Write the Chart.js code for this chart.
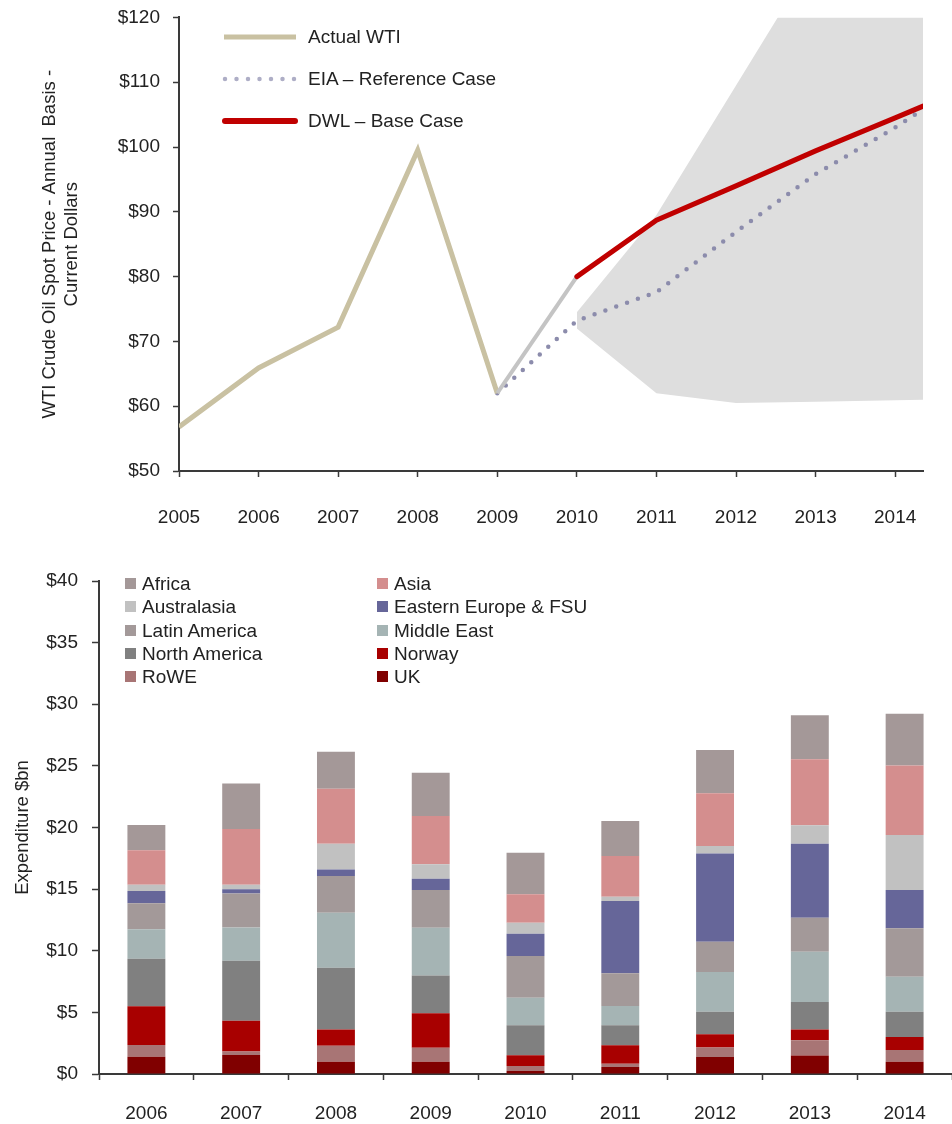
<!DOCTYPE html>
<html>
<head>
<meta charset="utf-8">
<script src="https://cdn.jsdelivr.net/npm/chart.js@4.4.1/dist/chart.umd.min.js"></script>
<style>
  body { margin: 0; background: #fff; font-family: "Liberation Sans", Arial, sans-serif; color: #222; }
  #page { position: relative; width: 952px; height: 1124px; overflow: hidden; }
  .box { position: absolute; left: 0; }
  .item { position: absolute; font-size: 19px; line-height: 22px; white-space: nowrap; }
  .item svg, .item span.sw { position: absolute; top: 50%; }
  .sw { width: 11px; height: 11px; margin-top: -6px; left: 0; }
</style>
</head>
<body>
<div id="page">
  <div class="box" style="top:-7px"><canvas id="price-chart" width="952" height="547"></canvas></div>
  <div class="box" style="top:540px"><canvas id="spend-chart" width="952" height="584"></canvas></div>
  <div id="price-legend"></div>
  <div id="spend-legend"></div>
</div>
<script>
// top chart: WTI price
const actualYears = [2005, 2006, 2007, 2008, 2009, 2010];
const actualWti = [56.8, 65.9, 72.2, 99.5, 62.0, 80.0];
const eiaYears = [2009, 2010, 2011, 2012, 2013, 2014, 2014.35];
const eiaReference = [62.0, 73.2, 77.6, 86.9, 95.8, 103.0, 105.8];
const dwlYears = [2010, 2011, 2012, 2013, 2014, 2014.35];
const dwlBase = [80.0, 88.7, 94.0, 99.4, 104.5, 106.3];
const rangeYears = [2010, 2011, 2012, 2013, 2014, 2014.35];
const rangeHigh = [74.5, 89.5, 109.5, 129.5, 149.5, 156.5];
const rangeLow = [72.0, 62.0, 60.5, 60.7, 60.9, 61.0];
const priceTicks = [50, 60, 70, 80, 90, 100, 110, 120];
const yearTicks = [2005, 2006, 2007, 2008, 2009, 2010, 2011, 2012, 2013, 2014];

// bottom chart: expenditure by region ($bn), stacked bottom to top
const spendYears = ['2006', '2007', '2008', '2009', '2010', '2011', '2012', '2013', '2014'];
const ukSpend = [1.4, 1.55, 1.0, 1.0, 0.24, 0.57, 1.38, 1.51, 1.0];
const roweSpend = [0.95, 0.27, 1.3, 1.13, 0.41, 0.27, 0.76, 1.22, 0.95];
const norwaySpend = [3.15, 2.5, 1.32, 2.79, 0.87, 1.49, 1.08, 0.89, 1.05];
const northAmericaSpend = [3.85, 4.87, 5.0, 3.08, 2.43, 1.62, 1.84, 2.22, 2.06];
const middleEastSpend = [2.4, 2.7, 4.46, 3.87, 2.24, 1.57, 3.22, 4.08, 2.84];
const latinAmericaSpend = [2.1, 2.76, 2.98, 3.06, 3.38, 2.65, 2.45, 2.76, 3.92];
const easternEuropeSpend = [1.0, 0.35, 0.53, 0.92, 1.81, 5.87, 7.17, 6.01, 3.11];
const australasiaSpend = [0.5, 0.35, 2.1, 1.16, 0.9, 0.35, 0.6, 1.49, 4.46];
const asiaSpend = [2.8, 4.52, 4.46, 3.92, 2.3, 3.3, 4.27, 5.35, 5.65];
const africaSpend = [2.05, 3.7, 3.0, 3.52, 3.38, 2.84, 3.52, 3.57, 4.19];
const spendTicks = [0, 5, 10, 15, 20, 25, 30, 35, 40];

Chart.defaults.font.family = '"Liberation Sans", Arial, sans-serif';
Chart.defaults.font.size = 19;
Chart.defaults.color = '#222';

const AXIS = '#3a3a3a';
const points = (xs, ys) => xs.map((x, i) => ({ x: x, y: ys[i] }));

new Chart(document.getElementById('price-chart'), {
    type: 'line',
    data: {
        datasets: [
            {
                label: 'DWL – Base Case', data: points(dwlYears, dwlBase),
                borderColor: '#c00000', borderWidth: 5, borderCapStyle: 'round', order: 0
            },
            {
                label: 'Actual WTI', data: points(actualYears, actualWti),
                borderColor: '#c9c1a2', borderWidth: 5, order: 1,
                segment: {
                    borderColor: ctx => ctx.p0.parsed.x >= 2009 ? '#c4c4c4' : undefined,
                    borderWidth: ctx => ctx.p0.parsed.x >= 2009 ? 4 : undefined
                }
            },
            {
                label: 'EIA – Reference Case', data: points(eiaYears, eiaReference),
                borderColor: '#8c8cac', borderWidth: 4.5, borderDash: [0, 11.5], borderCapStyle: 'round', order: 2
            },
            {
                label: 'range high', data: points(rangeYears, rangeHigh),
                borderWidth: 0, backgroundColor: '#dedede', fill: '+1', order: 5
            },
            {
                label: 'range low', data: points(rangeYears, rangeLow),
                borderWidth: 0, fill: false, order: 5
            }
        ]
    },
    options: {
        responsive: false,
        devicePixelRatio: 1,
        animation: false,
        elements: { point: { radius: 0 }, line: { tension: 0 } },
        layout: { padding: { top: 10, right: 29, left: 0, bottom: 0 } },
        plugins: { legend: { display: false }, tooltip: { enabled: false } },
        scales: {
            x: {
                type: 'linear', min: 2005, max: 2014.35,
                afterBuildTicks: s => { s.ticks = yearTicks.map(v => ({ value: v })); },
                afterFit: s => { s.height = 69; },
                ticks: { callback: v => String(v), padding: 29, maxRotation: 0 },
                grid: { drawOnChartArea: false, tickLength: 6, color: AXIS, tickWidth: 1.5 },
                border: { color: AXIS, width: 2 }
            },
            y: {
                min: 50, max: 120,
                afterBuildTicks: s => { s.ticks = priceTicks.map(v => ({ value: v })); },
                afterFit: s => { s.width = 179; },
                ticks: { callback: v => '$' + v, padding: 13 },
                grid: { drawOnChartArea: false, tickLength: 6, color: AXIS, tickWidth: 1.5 },
                border: { color: AXIS, width: 2 },
                title: {
                    display: true,
                    text: ['WTI Crude Oil Spot Price - Annual  Basis -', 'Current Dollars'],
                    font: { size: 18.5, lineHeight: '22px' },
                    padding: { top: 39, bottom: 0 }
                }
            }
        }
    }
});

const regions = [
    { name: 'UK', data: ukSpend, color: '#800000' },
    { name: 'RoWE', data: roweSpend, color: '#a87575' },
    { name: 'Norway', data: norwaySpend, color: '#a80000' },
    { name: 'North America', data: northAmericaSpend, color: '#808080' },
    { name: 'Middle East', data: middleEastSpend, color: '#a5b4b4' },
    { name: 'Latin America', data: latinAmericaSpend, color: '#a39999' },
    { name: 'Eastern Europe & FSU', data: easternEuropeSpend, color: '#666699' },
    { name: 'Australasia', data: australasiaSpend, color: '#c1c1c1' },
    { name: 'Asia', data: asiaSpend, color: '#d48e8e' },
    { name: 'Africa', data: africaSpend, color: '#a49898' }
];

new Chart(document.getElementById('spend-chart'), {
    type: 'bar',
    data: {
        labels: spendYears,
        datasets: regions.map(r => ({
            label: r.name, data: r.data, backgroundColor: r.color,
            borderWidth: 0, categoryPercentage: 1, barPercentage: 0.4
        }))
    },
    options: {
        responsive: false,
        devicePixelRatio: 1,
        animation: false,
        layout: { padding: { top: 41, right: 0, left: 0, bottom: 0 } },
        plugins: { legend: { display: false }, tooltip: { enabled: false } },
        scales: {
            x: {
                stacked: true,
                afterFit: s => { s.height = 50; },
                ticks: { padding: 22, maxRotation: 0 },
                grid: { drawOnChartArea: false, offset: true, tickLength: 6, color: AXIS, tickWidth: 1.5 },
                border: { color: AXIS, width: 2 }
            },
            y: {
                stacked: true, min: 0, max: 40,
                afterBuildTicks: s => { s.ticks = spendTicks.map(v => ({ value: v })); },
                afterFit: s => { s.width = 99; },
                ticks: { callback: v => '$' + v, padding: 14 },
                grid: { drawOnChartArea: false, tickLength: 7, color: AXIS, tickWidth: 1.5 },
                border: { color: AXIS, width: 2 },
                title: {
                    display: true, text: 'Expenditure $bn',
                    font: { size: 18.5, lineHeight: '22px' },
                    padding: { top: 12, bottom: 0 }
                }
            }
        }
    }
});

// legends (html overlays)
const priceLegend = [
    { text: 'Actual WTI', y: 37, svg: '<line x1="2" y1="4" x2="74" y2="4" stroke="#c9c1a2" stroke-width="5"/>' },
    { text: 'EIA – Reference Case', y: 79, svg: '<line x1="3" y1="4" x2="74" y2="4" stroke="#aeaec6" stroke-width="4.5" stroke-dasharray="0 11.5" stroke-linecap="round"/>' },
    { text: 'DWL – Base Case', y: 121, svg: '<line x1="3" y1="4" x2="73" y2="4" stroke="#c00000" stroke-width="6" stroke-linecap="round"/>' }
];
document.getElementById('price-legend').innerHTML = priceLegend.map(l =>
    `<div class="item" style="left:222px;top:${l.y - 11}px;padding-left:86px">` +
    `<svg width="76" height="8" style="left:0;margin-top:-4px">${l.svg}</svg>${l.text}</div>`
).join('');

const legendOrder = [...regions].reverse();
document.getElementById('spend-legend').innerHTML = legendOrder.map((r, i) => {
    const col = i % 2, row = Math.floor(i / 2);
    const left = col === 0 ? 125 : 377;
    const top = 584 + row * 23.3 - 11;
    return `<div class="item" style="left:${left}px;top:${top}px;padding-left:17px">` +
        `<span class="sw" style="background:${r.color}"></span>${r.name}</div>`;
}).join('');
</script>
</body>
</html>
